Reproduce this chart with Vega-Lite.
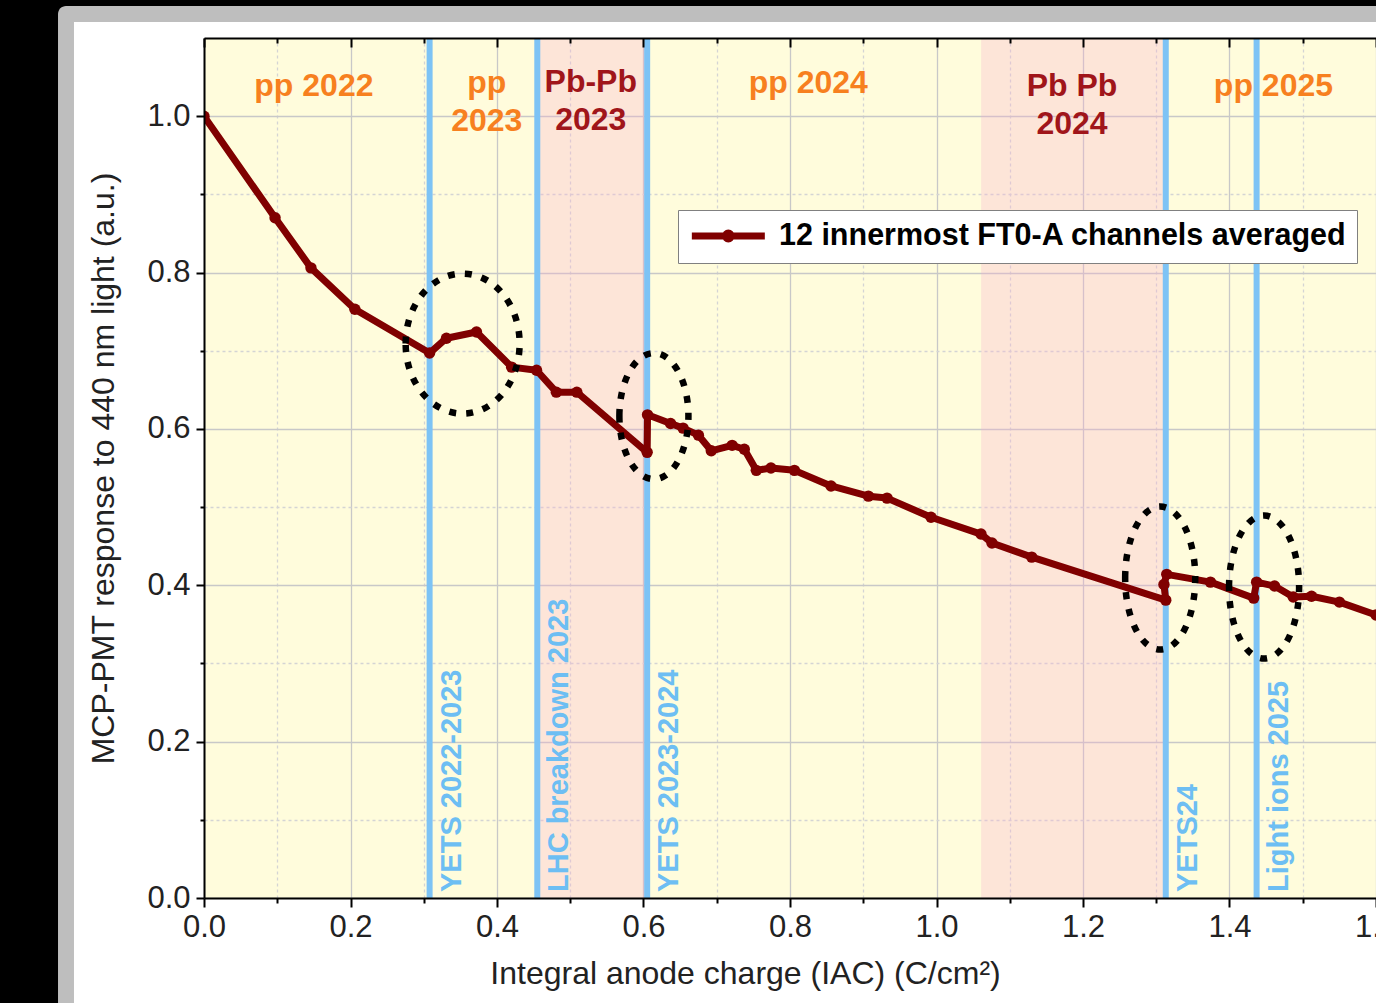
{
  "$schema": "https://vega.github.io/schema/vega-lite/v6.json",
  "width": 1172,
  "height": 860,
  "autosize": {"type": "none"},
  "padding": {"left": 204, "top": 38, "right": 0, "bottom": 105},
  "background": "black",
  "config": {"view": {"fill": "#FFFCDC", "stroke": null}, "font": "Liberation Sans"},
  "resolve": {"scale": {"color": "independent"}, "axis": {"x": "independent", "y": "independent"}},
  "datasets": {
    "response": [
      {"iac": 0.000, "resp": 1.000, "series": "12 innermost FT0-A channels averaged"},
      {"iac": 0.097, "resp": 0.870, "series": "12 innermost FT0-A channels averaged"},
      {"iac": 0.146, "resp": 0.806, "series": "12 innermost FT0-A channels averaged"},
      {"iac": 0.206, "resp": 0.753, "series": "12 innermost FT0-A channels averaged"},
      {"iac": 0.308, "resp": 0.697, "series": "12 innermost FT0-A channels averaged"},
      {"iac": 0.331, "resp": 0.716, "series": "12 innermost FT0-A channels averaged"},
      {"iac": 0.372, "resp": 0.724, "series": "12 innermost FT0-A channels averaged"},
      {"iac": 0.420, "resp": 0.679, "series": "12 innermost FT0-A channels averaged"},
      {"iac": 0.454, "resp": 0.675, "series": "12 innermost FT0-A channels averaged"},
      {"iac": 0.481, "resp": 0.647, "series": "12 innermost FT0-A channels averaged"},
      {"iac": 0.509, "resp": 0.647, "series": "12 innermost FT0-A channels averaged"},
      {"iac": 0.605, "resp": 0.570, "series": "12 innermost FT0-A channels averaged"},
      {"iac": 0.6055, "resp": 0.618, "series": "12 innermost FT0-A channels averaged"},
      {"iac": 0.637, "resp": 0.607, "series": "12 innermost FT0-A channels averaged"},
      {"iac": 0.654, "resp": 0.601, "series": "12 innermost FT0-A channels averaged"},
      {"iac": 0.675, "resp": 0.592, "series": "12 innermost FT0-A channels averaged"},
      {"iac": 0.6925, "resp": 0.572, "series": "12 innermost FT0-A channels averaged"},
      {"iac": 0.721, "resp": 0.579, "series": "12 innermost FT0-A channels averaged"},
      {"iac": 0.7376, "resp": 0.574, "series": "12 innermost FT0-A channels averaged"},
      {"iac": 0.754, "resp": 0.547, "series": "12 innermost FT0-A channels averaged"},
      {"iac": 0.774, "resp": 0.550, "series": "12 innermost FT0-A channels averaged"},
      {"iac": 0.806, "resp": 0.547, "series": "12 innermost FT0-A channels averaged"},
      {"iac": 0.856, "resp": 0.527, "series": "12 innermost FT0-A channels averaged"},
      {"iac": 0.907, "resp": 0.514, "series": "12 innermost FT0-A channels averaged"},
      {"iac": 0.9325, "resp": 0.5115, "series": "12 innermost FT0-A channels averaged"},
      {"iac": 0.9925, "resp": 0.487, "series": "12 innermost FT0-A channels averaged"},
      {"iac": 1.0607, "resp": 0.4655, "series": "12 innermost FT0-A channels averaged"},
      {"iac": 1.0757, "resp": 0.454, "series": "12 innermost FT0-A channels averaged"},
      {"iac": 1.130, "resp": 0.436, "series": "12 innermost FT0-A channels averaged"},
      {"iac": 1.313, "resp": 0.381, "series": "12 innermost FT0-A channels averaged"},
      {"iac": 1.3105, "resp": 0.401, "series": "12 innermost FT0-A channels averaged"},
      {"iac": 1.3143, "resp": 0.414, "series": "12 innermost FT0-A channels averaged"},
      {"iac": 1.374, "resp": 0.404, "series": "12 innermost FT0-A channels averaged"},
      {"iac": 1.433, "resp": 0.3836, "series": "12 innermost FT0-A channels averaged"},
      {"iac": 1.437, "resp": 0.404, "series": "12 innermost FT0-A channels averaged"},
      {"iac": 1.4615, "resp": 0.399, "series": "12 innermost FT0-A channels averaged"},
      {"iac": 1.487, "resp": 0.385, "series": "12 innermost FT0-A channels averaged"},
      {"iac": 1.512, "resp": 0.386, "series": "12 innermost FT0-A channels averaged"},
      {"iac": 1.550, "resp": 0.3785, "series": "12 innermost FT0-A channels averaged"},
      {"iac": 1.600, "resp": 0.362, "series": "12 innermost FT0-A channels averaged"}
    ],
    "events": [
      {"iac": 0.308, "label": "YETS 2022-2023"},
      {"iac": 0.455, "label": "LHC breakdown 2023"},
      {"iac": 0.605, "label": "YETS 2023-2024"},
      {"iac": 1.313, "label": "YETS24"},
      {"iac": 1.437, "label": "Light ions 2025"}
    ],
    "heavyIonRuns": [
      {"start": 0.455, "end": 0.605, "run": "Pb-Pb 2023"},
      {"start": 1.061, "end": 1.313, "run": "Pb-Pb 2024"}
    ],
    "periods": [
      {"iac": 0.150, "resp": 1.0256, "label": "pp 2022", "kind": "pp"},
      {"iac": 0.386, "resp": 1.0295, "label": "pp\n2023", "kind": "pp"},
      {"iac": 0.528, "resp": 1.031, "label": "Pb-Pb\n2023", "kind": "Pb"},
      {"iac": 0.825, "resp": 1.0294, "label": "pp 2024", "kind": "pp"},
      {"iac": 1.185, "resp": 1.0256, "label": "Pb Pb\n2024", "kind": "Pb"},
      {"iac": 1.460, "resp": 1.0256, "label": "pp 2025", "kind": "pp"}
    ]
  },
  "layer": [
    {
      "data": {"values": [{}]},
      "mark": {"type": "rect", "color": "#BEBEBE", "cornerRadiusTopLeft": 8, "clip": false},
      "encoding": {
        "x": {"datum": -0.1993, "type": "quantitative", "scale": {"domain": [0, 1.6], "nice": false, "zero": false}, "axis": null},
        "x2": {"datum": 0},
        "y": {"datum": 1.141, "type": "quantitative", "scale": {"domain": [0, 1.1], "nice": false, "zero": false}, "axis": null},
        "y2": {"datum": -0.2}
      }
    },
    {
      "data": {"values": [{}]},
      "mark": {"type": "rect", "color": "#BEBEBE", "clip": false},
      "encoding": {
        "x": {"datum": -0.1, "type": "quantitative", "scale": {"domain": [0, 1.6], "nice": false, "zero": false}, "axis": null},
        "x2": {"datum": 2.0},
        "y": {"datum": 1.141, "type": "quantitative", "scale": {"domain": [0, 1.1], "nice": false, "zero": false}, "axis": null},
        "y2": {"datum": 1.1}
      }
    },
    {
      "data": {"values": [{}]},
      "mark": {"type": "rect", "color": "white", "clip": false},
      "encoding": {
        "x": {"datum": -0.1775, "type": "quantitative", "scale": {"domain": [0, 1.6], "nice": false, "zero": false}, "axis": null},
        "x2": {"datum": 0},
        "y": {"datum": 1.1205, "type": "quantitative", "scale": {"domain": [0, 1.1], "nice": false, "zero": false}, "axis": null},
        "y2": {"datum": -0.2}
      }
    },
    {
      "data": {"values": [{}]},
      "mark": {"type": "rect", "color": "white", "clip": false},
      "encoding": {
        "x": {"datum": -0.1, "type": "quantitative", "scale": {"domain": [0, 1.6], "nice": false, "zero": false}, "axis": null},
        "x2": {"datum": 2.0},
        "y": {"datum": 1.1205, "type": "quantitative", "scale": {"domain": [0, 1.1], "nice": false, "zero": false}, "axis": null},
        "y2": {"datum": 1.1}
      }
    },
    {
      "data": {"values": [{}]},
      "mark": {"type": "rect", "color": "white", "clip": false},
      "encoding": {
        "x": {"datum": -0.1, "type": "quantitative", "scale": {"domain": [0, 1.6], "nice": false, "zero": false}, "axis": null},
        "x2": {"datum": 2.0},
        "y": {"datum": 0, "type": "quantitative", "scale": {"domain": [0, 1.1], "nice": false, "zero": false}, "axis": null},
        "y2": {"datum": -0.2}
      }
    },
    {
      "data": {"name": "heavyIonRuns"},
      "mark": {"type": "rect", "color": "#F8AFCF", "opacity": 0.3},
      "encoding": {
        "x": {"field": "start", "type": "quantitative", "scale": {"domain": [0, 1.6], "nice": false, "zero": false},
          "axis": {"orient": "bottom", "zindex": 0, "values": [0, 0.1, 0.2, 0.3, 0.4, 0.5, 0.6, 0.7, 0.8, 0.9, 1.0, 1.1, 1.2, 1.3, 1.4, 1.5, 1.6],
            "grid": true, "gridColor": {"condition": {"test": "round(datum.value*10)%2==1", "value": "#D4D4D4"}, "value": "#C8C8C8"},
            "gridDash": {"condition": {"test": "round(datum.value*10)%2==1", "value": [3, 3]}, "value": []},
            "gridWidth": 1.3, "domain": false, "ticks": false, "labels": false, "title": null}},
        "x2": {"field": "end"}
      }
    },
    {
      "data": {"name": "events"},
      "mark": {"type": "rule", "color": "#7DC3F5", "strokeWidth": 6},
      "encoding": {
        "x": {"field": "iac", "type": "quantitative", "scale": {"domain": [0, 1.6], "nice": false, "zero": false},
          "axis": {"orient": "bottom", "zindex": 1, "values": [0, 0.1, 0.2, 0.3, 0.4, 0.5, 0.6, 0.7, 0.8, 0.9, 1.0, 1.1, 1.2, 1.3, 1.4, 1.5, 1.6],
            "grid": false, "domain": true, "domainColor": "black", "domainWidth": 2,
            "ticks": true, "tickColor": "black", "tickWidth": 2,
            "tickSize": {"condition": {"test": "round(datum.value*10)%2==1", "value": 5}, "value": 9},
            "labelExpr": "round(datum.value*10)%2==0 ? format(datum.value,'.1f') : ''",
            "labelFont": "Liberation Sans", "labelFontSize": 31, "labelColor": "#222222", "labelPadding": 5,
            "labelOverlap": false, "labelFlush": false, "labelBound": false,
            "title": "Integral anode charge (IAC) (C/cm²)", "titleFont": "Liberation Sans", "titleFontSize": 32,
            "titleFontWeight": "normal", "titleColor": "#222222", "titleX": 541, "titlePadding": 16}}
      }
    },
    {
      "data": {"name": "events"},
      "mark": {"type": "text", "angle": 270, "align": "left", "baseline": "middle", "dx": 6, "dy": 22,
        "font": "Liberation Sans", "fontSize": 29, "fontWeight": "bold", "color": "#6DBEF3"},
      "encoding": {
        "x": {"field": "iac", "type": "quantitative", "scale": {"domain": [0, 1.6], "nice": false, "zero": false},
          "axis": {"orient": "top", "zindex": 1, "values": [0, 0.1, 0.2, 0.3, 0.4, 0.5, 0.6, 0.7, 0.8, 0.9, 1.0, 1.1, 1.2, 1.3, 1.4, 1.5, 1.6],
            "grid": false, "domain": true, "domainColor": "black", "domainWidth": 2,
            "ticks": true, "tickColor": "black", "tickWidth": 2,
            "tickSize": {"condition": {"test": "round(datum.value*10)%2==1", "value": -5}, "value": -9},
            "labels": false, "title": null}},
        "y": {"datum": 0, "type": "quantitative", "scale": {"domain": [0, 1.1], "nice": false, "zero": false}, "axis": null},
        "text": {"field": "label", "type": "nominal"}
      }
    },
    {
      "data": {"name": "periods"},
      "mark": {"type": "text", "align": "center", "baseline": "alphabetic", "lineBreak": "\n", "lineHeight": 38,
        "font": "Liberation Sans", "fontSize": 32, "fontWeight": "bold"},
      "encoding": {
        "x": {"field": "iac", "type": "quantitative", "scale": {"domain": [0, 1.6], "nice": false, "zero": false}, "axis": null},
        "y": {"field": "resp", "type": "quantitative", "scale": {"domain": [0, 1.1], "nice": false, "zero": false},
          "axis": {"orient": "left", "zindex": 0, "values": [0, 0.1, 0.2, 0.3, 0.4, 0.5, 0.6, 0.7, 0.8, 0.9, 1.0],
            "grid": true, "gridColor": {"condition": {"test": "round(datum.value*10)%2==1", "value": "#D4D4D4"}, "value": "#C8C8C8"},
            "gridDash": {"condition": {"test": "round(datum.value*10)%2==1", "value": [3, 3]}, "value": []},
            "gridWidth": 1.3, "domain": false, "ticks": false, "labels": false, "title": null}},
        "text": {"field": "label", "type": "nominal"},
        "color": {"field": "kind", "type": "nominal", "scale": {"domain": ["pp", "Pb"], "range": ["#F7801F", "#A0151A"]}, "legend": null}
      }
    },
    {
      "data": {"name": "response"},
      "mark": {"type": "line", "strokeWidth": 7, "strokeJoin": "round", "clip": true,
        "point": {"filled": true, "size": 130, "opacity": 1}},
      "encoding": {
        "x": {"field": "iac", "type": "quantitative", "scale": {"domain": [0, 1.6], "nice": false, "zero": false}, "axis": null},
        "y": {"field": "resp", "type": "quantitative", "scale": {"domain": [0, 1.1], "nice": false, "zero": false},
          "axis": {"orient": "left", "zindex": 1, "values": [0, 0.1, 0.2, 0.3, 0.4, 0.5, 0.6, 0.7, 0.8, 0.9, 1.0],
            "grid": false, "domain": true, "domainColor": "black", "domainWidth": 2,
            "ticks": true, "tickColor": "black", "tickWidth": 2,
            "tickSize": {"condition": {"test": "round(datum.value*10)%2==1", "value": 4}, "value": 8},
            "labelExpr": "round(datum.value*10)%2==0 ? format(datum.value,'.1f') : ''",
            "labelFont": "Liberation Sans", "labelFontSize": 31, "labelColor": "#222222", "labelPadding": 6,
            "labelOverlap": false, "labelFlush": false, "labelBound": false,
            "title": "MCP-PMT response to 440 nm light (a.u.)", "titleFont": "Liberation Sans", "titleFontSize": 32,
            "titleFontWeight": "normal", "titleColor": "#222222", "titlePadding": 26}},
        "order": {"value": null},
        "color": {"field": "series", "type": "nominal", "scale": {"range": ["#800000"]},
          "legend": {"orient": "none", "legendX": 474, "legendY": 172, "title": null,
            "fillColor": "white", "strokeColor": "#808080", "padding": 10, "cornerRadius": 0,
            "symbolType": "M-1,0L5,0M1.76,0A0.24,0.24,0,1,1,2.24,0A0.24,0.24,0,1,1,1.76,0Z",
            "symbolSize": 592, "symbolStrokeWidth": 7, "symbolFillColor": "#800000", "symbolStrokeColor": "#800000",
            "labelFont": "Liberation Sans", "labelFontSize": 30.5, "labelFontWeight": "bold", "labelColor": "black",
            "labelLimit": 2000, "labelOffset": 59}}
      }
    },
    {
      "data": {"values": [{"iac": 0.3531, "resp": 0.7091}]},
      "mark": {"type": "point", "shape": "M-0.814,0A0.814,1,0,1,1,0.814,0A0.814,1,0,1,1,-0.814,0Z", "size": 19600,
        "filled": false, "stroke": "black", "strokeWidth": 6.5, "strokeDash": [7, 10], "opacity": 1},
      "encoding": {
        "x": {"field": "iac", "type": "quantitative", "scale": {"domain": [0, 1.6], "nice": false, "zero": false}, "axis": null},
        "y": {"field": "resp", "type": "quantitative", "scale": {"domain": [0, 1.1], "nice": false, "zero": false}, "axis": null}
      }
    },
    {
      "data": {"values": [{"iac": 0.6142, "resp": 0.6164}]},
      "mark": {"type": "point", "shape": "M-0.548,0A0.548,1,0,1,1,0.548,0A0.548,1,0,1,1,-0.548,0Z", "size": 15876,
        "filled": false, "stroke": "black", "strokeWidth": 6.5, "strokeDash": [7, 10], "opacity": 1},
      "encoding": {
        "x": {"field": "iac", "type": "quantitative", "scale": {"domain": [0, 1.6], "nice": false, "zero": false}, "axis": null},
        "y": {"field": "resp", "type": "quantitative", "scale": {"domain": [0, 1.1], "nice": false, "zero": false}, "axis": null}
      }
    },
    {
      "data": {"values": [{"iac": 1.3054, "resp": 0.4092}, {"iac": 1.4472, "resp": 0.3977}]},
      "mark": {"type": "point", "shape": "M-0.49,0A0.49,1,0,1,1,0.49,0A0.49,1,0,1,1,-0.49,0Z", "size": 20449,
        "filled": false, "stroke": "black", "strokeWidth": 6.5, "strokeDash": [7, 10], "opacity": 1},
      "encoding": {
        "x": {"field": "iac", "type": "quantitative", "scale": {"domain": [0, 1.6], "nice": false, "zero": false}, "axis": null},
        "y": {"field": "resp", "type": "quantitative", "scale": {"domain": [0, 1.1], "nice": false, "zero": false}, "axis": null}
      }
    }
  ]
}
